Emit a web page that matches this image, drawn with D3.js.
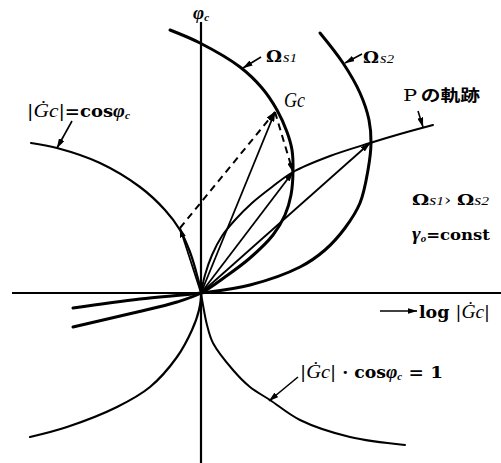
<!DOCTYPE html>
<html>
<head>
<meta charset="utf-8">
<script src="https://cdn.jsdelivr.net/npm/d3@7"></script>
<style>
  html, body { margin: 0; padding: 0; background: #fff; }
  svg { display: block; }
  text, tspan { font-family: "DejaVu Serif", "Liberation Serif", serif; fill: #000; }
</style>
</head>
<body>
<svg id="chart" width="501" height="463"></svg>
<script>
// Nichols-type plane: horizontal = log|Gc|, vertical = phase φc (arbitrary units)
const axisX = [-1.89, 3.00];   // extent of the log|Gc| axis
const axisY = [2.71, -1.70];   // extent of the φc axis

// Ω_s1 contour (passes through the origin and continues to the lower left)
const omegaS1 = [[-0.31,2.63],[-0.01,2.50],[0.39,2.26],[0.61,2.05],[0.76,1.83],[0.86,1.61],
  [0.91,1.43],[0.92,1.21],[0.90,0.98],[0.84,0.78],[0.72,0.58],[0.49,0.35],[0.24,0.16],
  [0,0],[-0.24,-0.09],[-0.68,-0.20],[-1.28,-0.34]];

// Ω_s2 contour
const omegaS2 = [[1.19,2.60],[1.42,2.30],[1.59,2.00],[1.68,1.73],[1.70,1.50],[1.67,1.23],
  [1.59,0.90],[1.44,0.65],[1.24,0.43],[0.99,0.26],[0.49,0.08],[0,0],[-0.61,-0.06],[-1.28,-0.15]];

// locus of P for γo = const
const pLocus = [[0,0],[0.04,0.18],[0.11,0.38],[0.21,0.57],[0.34,0.73],[0.51,0.90],[0.71,1.06],
  [0.92,1.21],[1.29,1.37],[1.69,1.50],[1.99,1.59],[2.32,1.68]];

// |Gc| = cos φc
const cosCurve = [[-1.70,1.50],[-1.44,1.45],[-1.01,1.30],[-0.61,1.06],[-0.36,0.83],[-0.21,0.63],
  [-0.11,0.41],[-0.04,0.18],[0,0],[-0.02,-0.17],[-0.09,-0.37],[-0.24,-0.64],[-0.51,-0.94],
  [-0.84,-1.14],[-1.34,-1.34],[-1.71,-1.44]];

// |Gc|·cos φc = 1
const secCurve = [[0,0],[0.02,-0.12],[0.06,-0.32],[0.12,-0.50],[0.32,-0.77],[0.49,-0.94],
  [0.69,-1.07],[0.99,-1.27],[1.49,-1.44],[2.04,-1.52]];

// vectors drawn from the origin
const vecA  = [-0.21, 0.65];   // point on |Gc| = cos φc
const vecGc = [0.74, 1.81];    // Gc
const vecP1 = [0.92, 1.21];    // P on Ω_s1
const vecP2 = [1.69, 1.50];    // P on Ω_s2
const solidVectors  = [vecA, vecGc, vecP1, vecP2];
const dashedVectors = [[vecA, vecGc], [vecGc, vecP1]];

const svg = d3.select("#chart");
const W = 501, H = 463;
const x = d3.scaleLinear().domain([-2.01, 3.00]).range([0, W]);
const y = d3.scaleLinear().domain([2.93, -1.70]).range([0, H]);

// arrowhead marker
const defs = svg.append("defs");
defs.append("marker")
  .attr("id", "head").attr("viewBox", "0 0 10 6")
  .attr("refX", 9.5).attr("refY", 3)
  .attr("markerWidth", 10).attr("markerHeight", 6)
  .attr("markerUnits", "userSpaceOnUse").attr("orient", "auto")
  .append("path").attr("d", "M0,0 L10,3 L0,6 Z").attr("fill", "#000");

// axes
svg.append("line")
  .attr("x1", x(axisX[0])).attr("x2", x(axisX[1]))
  .attr("y1", y(0)).attr("y2", y(0))
  .attr("stroke", "#000").attr("stroke-width", 2.2);
svg.append("line")
  .attr("x1", x(0)).attr("x2", x(0))
  .attr("y1", y(axisY[0])).attr("y2", y(axisY[1]))
  .attr("stroke", "#000").attr("stroke-width", 2.2);

const line = d3.line()
  .x(d => x(d[0])).y(d => y(d[1]))
  .curve(d3.curveCatmullRom.alpha(0.5));

function curve(data, w) {
  svg.append("path").attr("d", line(data))
    .attr("fill", "none").attr("stroke", "#000")
    .attr("stroke-width", w).attr("stroke-linecap", "round");
}
curve(cosCurve, 2.2);
curve(secCurve, 2.0);
curve(pLocus, 2.0);
curve(omegaS1, 3.0);
curve(omegaS2, 3.0);

// vectors from the origin
svg.selectAll("line.vec").data(solidVectors).join("line")
  .attr("class", "vec")
  .attr("x1", x(0)).attr("y1", y(0))
  .attr("x2", d => x(d[0])).attr("y2", d => y(d[1]))
  .attr("stroke", "#000").attr("stroke-width", 1.8)
  .attr("marker-end", "url(#head)");

svg.selectAll("line.dash").data(dashedVectors).join("line")
  .attr("class", "dash")
  .attr("x1", d => x(d[0][0])).attr("y1", d => y(d[0][1]))
  .attr("x2", d => x(d[1][0])).attr("y2", d => y(d[1][1]))
  .attr("stroke", "#000").attr("stroke-width", 2)
  .attr("stroke-dasharray", "7,5")
  .attr("marker-end", "url(#head)");

// pointer arrows from labels to curves
function pointer(x1, y1, x2, y2) {
  svg.append("line").attr("x1", x1).attr("y1", y1).attr("x2", x2).attr("y2", y2)
    .attr("stroke", "#000").attr("stroke-width", 1.6).attr("marker-end", "url(#head)");
}
pointer(261, 57, 243, 68);
pointer(362, 54, 345, 63);
pointer(72, 121, 57, 148);
pointer(418, 111, 423, 127);
pointer(298, 377, 269, 401);
pointer(380, 311, 417, 311);

// rich text labels; the optional width pins the label's overall extent
const ITAL = "'Liberation Serif', 'DejaVu Serif', serif";
function label(px, py, parts, width) {
  const t = svg.append("text").attr("x", px).attr("y", py);
  parts.forEach(p => {
    const s = t.append("tspan").text(p.t)
      .attr("font-size", p.size || 16)
      .attr("font-weight", p.w || "bold")
      .attr("font-style", p.i ? "italic" : "normal")
      .attr("fill", "#000");
    if (p.dy) s.attr("dy", p.dy);
    if (p.dx) s.attr("dx", p.dx);
    if (p.f) s.style("font-family", p.f);
    else if (p.i) s.style("font-family", ITAL);
  });
  if (width) t.attr("textLength", width).attr("lengthAdjust", "spacingAndGlyphs");
  return t;
}

label(193, 19, [{t: "φ", size: 19, i: true}, {t: "c", size: 11, i: true, dy: 2}]);
label(266, 62, [{t: "Ω", size: 16}, {t: "s", size: 15, i: true, w: "normal", dx: 1}, {t: "1", size: 13, i: true, w: "normal"}], 31);
label(363, 63, [{t: "Ω", size: 16}, {t: "s", size: 15, i: true, w: "normal", dx: 1}, {t: "2", size: 13, i: true, w: "normal"}], 31);
label(284, 107, [{t: "Gc", size: 20, i: true, w: "normal"}], 21);
label(403, 101, [{t: "P", size: 17, w: "normal"}, {t: "の軌跡", size: 16, w: "bold", dx: 3, f: "'Noto Sans CJK JP', sans-serif"}], 77);
label(412, 205, [{t: "Ω", size: 15}, {t: "s", size: 14, i: true, w: "normal"}, {t: "1", size: 12, i: true, w: "normal"}, {t: "› ", size: 14, w: "normal"}, {t: "Ω", size: 15}, {t: "s", size: 14, i: true, w: "normal"}, {t: "2", size: 12, i: true, w: "normal"}], 77);
label(412, 240, [{t: "γ", size: 19, i: true, w: "bold"}, {t: "o", size: 10, i: true, dy: 2}, {t: "=const", size: 15, dy: -2}], 78);
label(27, 117, [{t: "|", size: 17, w: "normal"}, {t: "Ġc", size: 19, i: true, w: "normal"}, {t: "|", size: 17, w: "normal"}, {t: "=cos", size: 16}, {t: "φ", size: 18, i: true}, {t: "c", size: 10, i: true, dy: 2}], 103);
label(300, 378, [{t: "|", size: 17, w: "normal"}, {t: "Ġc", size: 19, i: true, w: "normal"}, {t: "|", size: 17, w: "normal"}, {t: " · cos", size: 16}, {t: "φ", size: 18, i: true}, {t: "c", size: 10, i: true, dy: 2}, {t: " = 1", size: 17, dy: -2}], 143);
label(419, 318, [{t: "log ", size: 17}, {t: "|", size: 17, w: "normal"}, {t: "Ġc", size: 19, i: true, w: "normal"}, {t: "|", size: 17, w: "normal"}], 71);
</script>
</body>
</html>
